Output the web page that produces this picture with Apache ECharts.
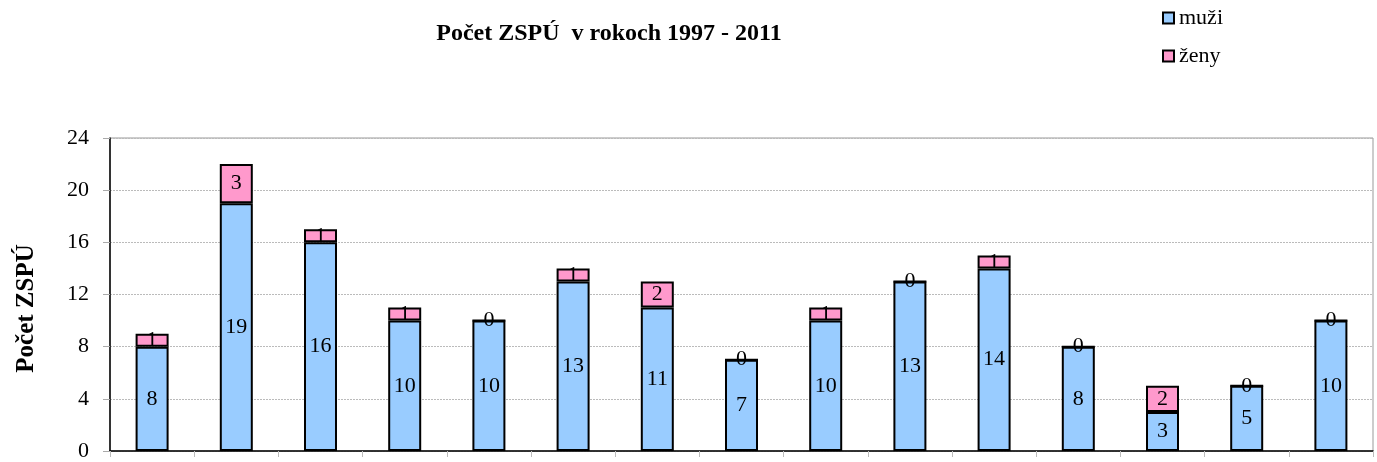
<!DOCTYPE html>
<html>
<head>
<meta charset="utf-8">
<script src="https://cdn.jsdelivr.net/npm/echarts@6/dist/echarts.min.js"></script>
<style>html,body{margin:0;padding:0;background:#fff}#c{width:1377px;height:462px}</style>
</head>
<body>
<div id="c"></div>
<script>
const categories = ['1997','1998','1999','2000','2001','2002','2003','2004','2005','2006','2007','2008','2009','2010','2011'];
const muzi = [8,19,16,10,10,13,11,7,10,13,14,8,3,5,10];
const zeny = [1,3,1,1,0,1,2,0,1,0,1,0,2,0,0];
const yTicks = [0,4,8,12,16,20,24];

const serif = '"Liberation Serif","Times New Roman",serif';
const chart = echarts.init(document.getElementById('c'));
chart.setOption({
  animation: false,
  title: {
    text: 'Počet ZSPÚ  v rokoch 1997 - 2011',
    left: 604, top: 17, textAlign: 'center',
    textStyle: {fontFamily: serif, fontWeight: 'bold', fontSize: 24, color: '#000'}
  },
  legend: {
    orient: 'vertical', left: 1157, top: 2,
    itemWidth: 11, itemHeight: 11, itemGap: 16, icon: 'rect',
    textStyle: {fontFamily: serif, fontSize: 22, color: '#000'},
    data: [
      {name: 'muži', itemStyle: {color: '#99CCFF', borderColor: '#000', borderWidth: 2}},
      {name: 'ženy', itemStyle: {color: '#FF99CC', borderColor: '#000', borderWidth: 2}}
    ]
  },
  grid: {left: 110, right: 4, top: 138, bottom: 7, show: true, borderColor: '#999', borderWidth: 1},
  xAxis: {
    type: 'category', data: categories,
    axisLine: {lineStyle: {color: '#000', width: 1.5}},
    axisTick: {show: true, length: 6, lineStyle: {color: '#bbb'}},
    axisLabel: {show: false}
  },
  yAxis: {
    type: 'value', min: 0, max: 24, interval: 4,
    name: 'Počet ZSPÚ', nameLocation: 'middle', nameGap: 71, nameRotate: 90,
    nameTextStyle: {fontFamily: serif, fontWeight: 'bold', fontSize: 25, color: '#000', padding: [0, 28, 0, 0]},
    axisLine: {show: true, lineStyle: {color: '#000', width: 1.5}},
    axisTick: {show: true, length: 7, lineStyle: {color: '#aaa'}},
    axisLabel: {fontFamily: serif, fontSize: 22, color: '#000', margin: 21,
      formatter: v => yTicks.includes(v) ? String(v) : ''},
    splitLine: {lineStyle: {color: '#bbb', type: [2, 1], width: 1}}
  },
  series: [
    {
      name: 'muži', type: 'bar', stack: 's', barWidth: 33, data: muzi,
      itemStyle: {color: '#99CCFF', borderColor: '#000', borderWidth: 2},
      label: {show: true, position: 'inside', fontFamily: serif, fontSize: 22, color: '#000'}
    },
    {
      name: 'ženy', type: 'bar', stack: 's', barWidth: 33, data: zeny,
      itemStyle: {color: '#FF99CC', borderColor: '#000', borderWidth: 2},
      label: {show: true, position: 'inside', fontFamily: serif, fontSize: 22, color: '#000'}
    }
  ]
});
</script>
</body>
</html>
